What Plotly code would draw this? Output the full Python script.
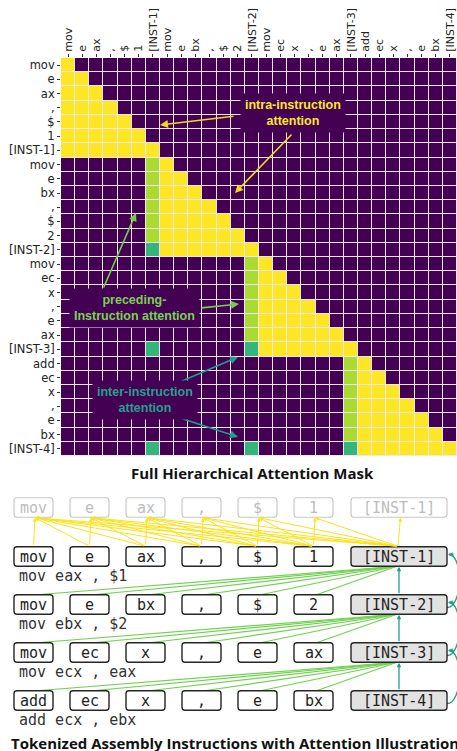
import plotly.graph_objects as go

W, H = 457, 751

# ---------------- data ----------------
instr_tokens = [
    ["mov", "e", "ax", ",", "$", "1"],
    ["mov", "e", "bx", ",", "$", "2"],
    ["mov", "ec", "x", ",", "e", "ax"],
    ["add", "ec", "x", ",", "e", "bx"],
]
inst_labels = ["[INST-1]", "[INST-2]", "[INST-3]", "[INST-4]"]
instr_text = ["mov eax , $1", "mov ebx , $2", "mov ecx , eax", "add ecx , ebx"]

# attention strengths used in the mask
INTRA = 1.0       # intra-instruction attention (yellow)
PRECEDING = 0.87  # preceding-instruction attention (light green)
INTER = 0.66      # inter-instruction attention (teal)

# ---------------- build mask ----------------
tokens = []
for k, toks in enumerate(instr_tokens):
    tokens += toks + [inst_labels[k]]
n = len(tokens)
blk = len(instr_tokens[0]) + 1
z = [[0.0] * n for _ in range(n)]
for k in range(len(instr_tokens)):
    for r in range(k * blk, (k + 1) * blk):
        for c in range(k * blk, r + 1):
            z[r][c] = INTRA
        is_inst = (r == (k + 1) * blk - 1)
        if k > 0 and not is_inst:
            z[r][k * blk - 1] = PRECEDING
        if k > 0 and is_inst:
            for j in range(k):
                z[r][(j + 1) * blk - 1] = INTER


def px(x):
    return x / W


def py(y):
    return 1 - y / H


fig = go.Figure()
fig.add_trace(go.Heatmap(
    z=z, x=list(range(n)), y=list(range(n)),
    colorscale="Viridis", zmin=0, zmax=1, showscale=False,
    xgap=1, ygap=1, hoverinfo="skip",
))

HM_L, HM_R, HM_T, HM_B = 61, 457, 58, 456

shapes = []
annos = []


def text(x, y, s, font, xanchor="center", **kw):
    d = dict(x=px(x), y=py(y), xref="paper", yref="paper", showarrow=False,
             text=s, font=font, xanchor=xanchor, yanchor="middle")
    d.update(kw)
    annos.append(d)


# ---------- heatmap callouts ----------
def callout(cx, cy, lines, color):
    text(cx, cy, "<br>".join("<b>%s</b>" % l for l in lines),
         dict(family="Liberation Sans", size=12.5, color=color),
         bgcolor="#440154", borderpad=4, align="center")


def arrow(tx, ty, hx, hy, color, width=1.6, head=2, size=1.0):
    annos.append(dict(
        x=px(hx), y=py(hy), xref="paper", yref="paper", text="",
        showarrow=True, ax=tx - hx, ay=ty - hy, axref="pixel", ayref="pixel",
        arrowcolor=color, arrowwidth=width, arrowhead=head, arrowsize=size,
        standoff=0, startstandoff=0,
    ))


YEL = "#f2d81c"
GRN = "#78c94e"
TEAL = "#1f9e89"

arrow(235, 116, 160, 125, YEL)
arrow(293, 133, 235, 193, YEL)
arrow(103, 289, 136, 213, GRN)
arrow(200, 308, 239, 304, GRN)
arrow(180, 382, 238, 357, TEAL)
arrow(180, 418, 238, 437, TEAL)

callout(293, 113, ["intra-instruction", "attention"], "#fde725")
callout(134, 308, ["preceding-", "Instruction attention"], "#7ad151")
callout(145, 400, ["inter-instruction", "attention"], "#26a08a")

TITLE_FONT = dict(family="Open Sans", size=15, color="#111")
text(253, 473, "<b>Full Hierarchical Attention Mask</b>", TITLE_FONT)

# ---------- bottom diagram ----------
TOK_W, INST_W, BOX_H = 39, 96, 19.5
TOK_X0, TOK_STEP, INST_X = 14, 56, 351
FADED_Y = 507.5
ROW_Y = [556.5 + 48 * k for k in range(len(instr_tokens))]
MONO = "DejaVu Sans Mono"


def tok_cx(i):
    if i < len(instr_tokens[0]):
        return TOK_X0 + TOK_STEP * i + TOK_W / 2
    return INST_X + INST_W / 2


def tok_x0(i):
    if i < len(instr_tokens[0]):
        return TOK_X0 + TOK_STEP * i
    return INST_X


def tok_w(i):
    return TOK_W if i < len(instr_tokens[0]) else INST_W


def rbox(x0, y0, w, h, line, fill, r=3, lw=1.4):
    x1, y1 = x0 + w, y0 + h
    X = lambda v: px(v)
    Y = lambda v: py(v)
    path = (f"M {X(x0+r)},{Y(y0)} L {X(x1-r)},{Y(y0)} Q {X(x1)},{Y(y0)} {X(x1)},{Y(y0+r)} "
            f"L {X(x1)},{Y(y1-r)} Q {X(x1)},{Y(y1)} {X(x1-r)},{Y(y1)} "
            f"L {X(x0+r)},{Y(y1)} Q {X(x0)},{Y(y1)} {X(x0)},{Y(y1-r)} "
            f"L {X(x0)},{Y(y0+r)} Q {X(x0)},{Y(y0)} {X(x0+r)},{Y(y0)} Z")
    shapes.append(dict(type="path", path=path, xref="paper", yref="paper",
                       line=dict(color=line, width=lw), fillcolor=fill, layer="above"))


def line(x0, y0, x1, y1, color, width=1.1):
    shapes.append(dict(type="line", xref="paper", yref="paper",
                       x0=px(x0), y0=py(y0), x1=px(x1), y1=py(y1),
                       line=dict(color=color, width=width), layer="above"))


ntok = len(instr_tokens[0]) + 1
# green lines: INST-k -> tokens of next instruction
for k in range(len(instr_tokens) - 1):
    for i in range(ntok - 1):
        line(397, ROW_Y[k] + BOX_H / 2, tok_cx(i) + 3, ROW_Y[k + 1] - BOX_H / 2, "#72d152", 1.2)

# teal curves on the right
for k in range(1, len(instr_tokens)):
    ya, yb = ROW_Y[k] + 3, ROW_Y[k - 1] - 2
    shapes.append(dict(
        type="path", xref="paper", yref="paper",
        path=f"M {px(447)},{py(ya)} C {px(463)},{py(ya)} {px(463)},{py(yb)} {px(449)},{py(yb)}",
        line=dict(color=TEAL, width=1.3), layer="above"))

# boxes
row1 = instr_tokens[0] + [inst_labels[0]]
for i, t in enumerate(row1):
    rbox(tok_x0(i), FADED_Y - BOX_H / 2, tok_w(i), BOX_H, "#c8c8c8", "white", lw=1.2)
    text(tok_cx(i), FADED_Y, t, dict(family=MONO, size=15, color="#bdbdbd"))

for k, toks in enumerate(instr_tokens):
    row = toks + [inst_labels[k]]
    for i, t in enumerate(row):
        is_inst = i == len(row) - 1
        rbox(tok_x0(i), ROW_Y[k] - BOX_H / 2, tok_w(i), BOX_H, "#262626",
             "#e2e2e2" if is_inst else "white")
        text(tok_cx(i), ROW_Y[k], t, dict(family=MONO, size=15, color="#222"))
    text(17, ROW_Y[k] + 19, instr_text[k].replace(" ", "&nbsp;"),
         dict(family=MONO, size=15, color="#333"), xanchor="left")

# yellow causal arrows: first instruction tokens -> earlier tokens (faded copy)
for i in range(ntok):
    for j in range(i + 1):
        arrow(tok_cx(i) - (1 if i == ntok - 1 else 0), ROW_Y[0] - BOX_H / 2 - 0.5,
              tok_cx(j) + 1.5, FADED_Y + BOX_H / 2 + 0.5, "#fbe21a", width=1.0, head=2, size=0.8)

# teal vertical arrows between INST tokens
for k in range(1, len(instr_tokens)):
    arrow(399, ROW_Y[k] - BOX_H / 2, 399, ROW_Y[k - 1] + BOX_H / 2 + 0.5, TEAL, width=1.3, head=2, size=0.7)
    arrow(455, ROW_Y[k - 1] - 2, 448, ROW_Y[k - 1] - 2, TEAL, width=1.3, head=2, size=0.7)

text(9, 743, "<b>Tokenized Assembly Instructions with Attention Illustration</b>",
     TITLE_FONT, xanchor="left")

fig.update_layout(
    width=W, height=H, margin=dict(l=0, r=0, t=0, b=0),
    paper_bgcolor="white", plot_bgcolor="#eee6f0",
    shapes=shapes, annotations=annos, showlegend=False,
    xaxis=dict(domain=[px(HM_L), px(HM_R)], range=[-0.5, n - 0.5], side="top",
               tickmode="array", tickvals=list(range(n)), ticktext=tokens,
               tickangle=-90, ticks="outside", ticklen=3, tickcolor="#333",
               tickfont=dict(family="DejaVu Sans", size=11, color="#222"),
               showgrid=False, zeroline=False, fixedrange=True, automargin=False),
    yaxis=dict(domain=[py(HM_B), py(HM_T)], range=[n - 0.5, -0.5],
               tickmode="array", tickvals=list(range(n)), ticktext=tokens,
               ticks="outside", ticklen=3, tickcolor="#333",
               tickfont=dict(family="DejaVu Sans", size=11.5, color="#222"),
               showgrid=False, zeroline=False, fixedrange=True, automargin=False),
)

fig.write_html("out.html", config={"displayModeBar": False},
               post_script="document.body.style.margin='0';document.body.style.overflow='hidden';")
